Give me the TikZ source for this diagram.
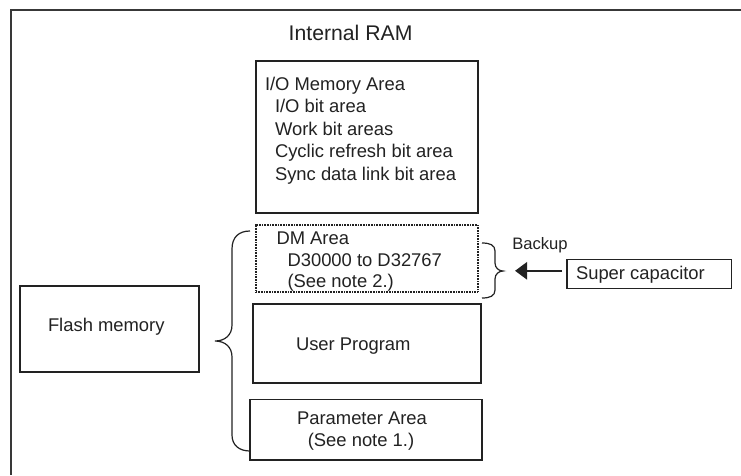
\documentclass[tikz,border=0pt]{standalone}
\usepackage{fontspec}
\setmainfont{Liberation Sans}
\usetikzlibrary{arrows.meta}
\definecolor{ink}{HTML}{222222}
\begin{document}
\begin{tikzpicture}[x=1pt,y=-1pt,
  box/.style={draw=ink,line width=1.5pt,inner sep=0pt,outer sep=0pt,rectangle},
  dmbox/.style={box,dash pattern=on 1pt off 0.6pt},
  txt/.style={inner sep=0pt,outer sep=0pt,text=ink,font=\fontsize{18.4}{21}\selectfont},
  small/.style={inner sep=0pt,outer sep=0pt,text=ink,font=\fontsize{16.6}{19}\selectfont},
  big/.style={inner sep=0pt,outer sep=0pt,text=ink,font=\fontsize{21.2}{24}\selectfont},
  bracestyle/.style={draw=ink,line width=1.2pt},
  frame/.style={draw=ink!90,line width=2.2pt}]
\useasboundingbox (0,0) rectangle (741,475);
\fill[white] (0,0) rectangle (741,475);
% outer frame (only top and left edges visible)
\draw[frame] (741,10) -- (11,10) -- (11,475);
\node[big,anchor=base] (title) at (350.6,40.5) {Internal RAM};
% boxes
\node[box,minimum width=222pt,minimum height=152pt] (io) at (367,137) {};
\node[dmbox,minimum width=222pt,minimum height=67pt] (dm) at (367,258.5) {};
\node[box,minimum width=228pt,minimum height=79pt] (up) at (367,343.5) {};
\node[box,minimum width=232pt,minimum height=60.5pt] (pa) at (366,429.75) {};
\node[box,minimum width=179pt,minimum height=86pt] (fm) at (109.5,329) {};
\node[box,minimum width=164.5pt,minimum height=29pt] (sc) at (649.25,273.8) {};
% texts
\node[txt,anchor=base west] (io1) at (265,90.5) {I/O Memory Area};
\node[txt,anchor=base west] (io2) at (275,112.9) {I/O bit area};
\node[txt,anchor=base west] (io3) at (275,135.3) {Work bit areas};
\node[txt,anchor=base west] (io4) at (275,157.7) {Cyclic refresh bit area};
\node[txt,anchor=base west] (io5) at (275,180.1) {Sync data link bit area};
\node[txt,anchor=base west] (dm1) at (276.5,244) {DM Area};
\node[txt,anchor=base west] (dm2) at (287.5,266) {D30000 to D32767};
\node[txt,anchor=base west] (dm3) at (287.5,287.5) {(See note 2.)};
\node[txt,anchor=base west] (up1) at (296,350) {User Program};
\node[txt,anchor=base] (pa1) at (362,424) {Parameter Area};
\node[txt,anchor=base] (pa2) at (361,446.5) {(See note 1.)};
\node[txt,anchor=base west] (fm1) at (48,331) {Flash memory};
\node[txt,anchor=base west] (sc1) at (576,279.5) {Super capacitor};
\node[small,anchor=base west] (bk) at (512.3,249) {Backup};
% left brace
\draw[bracestyle] (250,231) .. controls (239,231) and (232,237) .. (232,249)
  -- (232,325) .. controls (232,335) and (225,341) .. (215,341)
  .. controls (225,341) and (232,347) .. (232,357)
  -- (232,435) .. controls (232,445) and (239,451) .. (250,451);
% right brace
\draw[bracestyle] (482,243) .. controls (490,243) and (495,245) .. (495,251)
  -- (495,263) .. controls (495,268) and (499,271) .. (503,271)
  .. controls (499,271) and (495,274) .. (495,279)
  -- (495,290) .. controls (495,296) and (490,298) .. (482,298);
% arrow
\coordinate (tip) at (515,270.8);
\draw[draw=ink,line width=2.6pt,shorten <=5pt,-{Triangle[length=12pt,width=17pt]}] (sc.west |- tip) -- (tip);
\end{tikzpicture}
\end{document}
